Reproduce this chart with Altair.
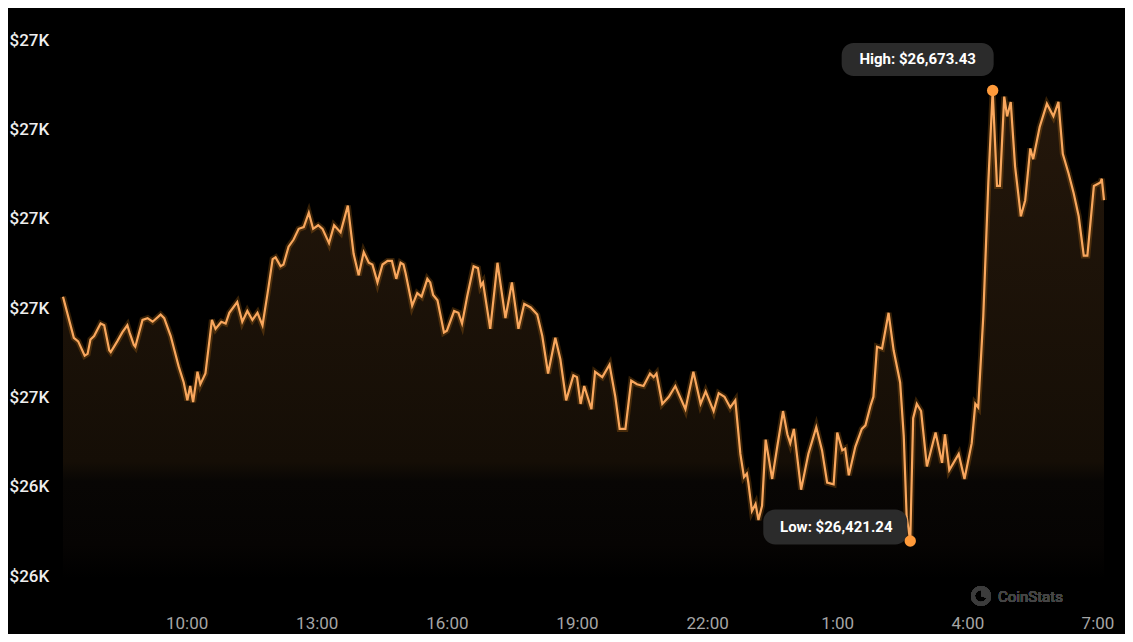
import altair as alt
import pandas as pd

# Times (HH:MM) starting on 2023-09-13, crossing midnight into 2023-09-14
hhmm = [
    "07:09", "07:24", "07:30", "07:39", "07:43", "07:47", "07:52", "08:01", "08:06", "08:13",
    "08:15", "08:24", "08:31", "08:38", "08:41", "08:47", "08:49", "08:59", "09:06", "09:13",
    "09:24", "09:29", "09:38", "09:49", "09:56", "10:01", "10:05", "10:09", "10:15", "10:19",
    "10:26", "10:35", "10:40", "10:48", "10:54", "10:59", "11:10", "11:17", "11:24", "11:31",
    "11:38", "11:45", "11:52", "11:59", "12:03", "12:10", "12:14", "12:21", "12:28", "12:35",
    "12:42", "12:49", "12:55", "13:02", "13:08", "13:17", "13:24", "13:33", "13:43", "13:51",
    "13:58", "14:05", "14:12", "14:17", "14:24", "14:31", "14:38", "14:44", "14:50", "14:56",
    "15:00", "15:03", "15:12", "15:19", "15:25", "15:33", "15:37", "15:41", "15:47", "15:56",
    "16:00", "16:10", "16:16", "16:21", "16:28", "16:37", "16:43", "16:47", "16:50", "17:00",
    "17:10", "17:21", "17:30", "17:39", "17:47", "17:56", "18:05", "18:12", "18:20", "18:30",
    "18:37", "18:45", "18:55", "19:00", "19:05", "19:10", "19:20", "19:25", "19:35", "19:45",
    "19:53", "19:59", "20:07", "20:15", "20:23", "20:32", "20:41", "20:46", "20:50", "20:58",
    "21:07", "21:16", "21:30", "21:41", "21:51", "21:58", "22:09", "22:16", "22:24", "22:32",
    "22:39", "22:46", "22:51", "22:55", "22:57", "23:02", "23:07", "23:11", "23:16", "23:21",
    "23:30", "23:37", "23:45", "23:51", "23:55", "00:00", "00:10", "00:20", "00:31", "00:39",
    "00:46", "00:55", "01:00", "01:07", "01:11", "01:16", "01:25", "01:34", "01:39", "01:46",
    "01:50", "01:55", "02:02", "02:11", "02:18", "02:27", "02:32", "02:36", "02:41", "02:45",
    "02:50", "02:56", "03:04", "03:16", "03:25", "03:29", "03:35", "03:48", "03:56", "04:06",
    "04:11", "04:15", "04:22", "04:29", "04:35", "04:41", "04:45", "04:51", "04:55", "05:00",
    "05:06", "05:14", "05:20", "05:27", "05:31", "05:40", "05:50", "05:59", "06:06", "06:12",
    "06:20", "06:27", "06:34", "06:41", "06:46", "06:55", "07:04", "07:06", "07:09",
]

prices = [
    26558, 26535, 26533, 26525, 26526, 26534, 26536, 26543, 26542, 26528,
    26527, 26533, 26538, 26542, 26538, 26531, 26530, 26545, 26546, 26544,
    26548, 26546, 26536, 26519, 26510, 26500, 26508, 26499, 26516, 26509,
    26515, 26545, 26540, 26544, 26543, 26549, 26555, 26544, 26550, 26545,
    26549, 26542, 26560, 26579, 26580, 26575, 26576, 26586, 26590, 26596,
    26597, 26605, 26596, 26598, 26596, 26588, 26598, 26594, 26609, 26582,
    26570, 26583, 26577, 26576, 26566, 26576, 26578, 26578, 26568, 26577,
    26576, 26571, 26553, 26560, 26558, 26568, 26566, 26559, 26556, 26538,
    26539, 26550, 26549, 26543, 26558, 26575, 26574, 26564, 26566, 26540,
    26577, 26546, 26566, 26540, 26554, 26552, 26548, 26536, 26515, 26535,
    26523, 26500, 26514, 26513, 26498, 26508, 26495, 26516, 26513, 26520,
    26502, 26484, 26484, 26511, 26509, 26508, 26515, 26513, 26515, 26498,
    26502, 26508, 26495, 26516, 26498, 26505, 26494, 26504, 26502, 26496,
    26500, 26470, 26457, 26459, 26454, 26438, 26442, 26433, 26441, 26478,
    26456, 26474, 26494, 26481, 26476, 26484, 26450, 26470, 26485, 26472,
    26454, 26453, 26482, 26472, 26473, 26458, 26474, 26484, 26486, 26497,
    26502, 26530, 26529, 26549, 26528, 26510, 26480, 26435, 26421.24, 26490,
    26498, 26494, 26463, 26482, 26465, 26481, 26461, 26470, 26456, 26476,
    26498, 26496, 26547, 26622, 26673.43, 26620, 26620, 26670, 26659, 26667,
    26631, 26603, 26612, 26641, 26635, 26653, 26666, 26659, 26667, 26638,
    26627, 26616, 26603, 26581, 26581, 26620, 26622, 26624, 26612,
]

y_ticks = [26400, 26450, 26500, 26550, 26600, 26650, 26700]
x_tick_days = [13, 13, 13, 13, 13, 14, 14, 14]
x_tick_hours = [10, 13, 16, 19, 22, 1, 4, 7]

# Build timestamps (day rolls over when clock wraps past midnight)
stamps = []
day = 13
prev = None
for t in hhmm:
    if prev is not None and t < prev:
        day += 1
    stamps.append(f"2023-09-{day:02d}T{t}:00")
    prev = t

df = pd.DataFrame({"t": stamps, "price": prices})
hi = df.loc[[df["price"].idxmax()]].copy()
lo = df.loc[[df["price"].idxmin()]].copy()
hi["label"] = hi["price"].map(lambda v: f"High: ${v:,.2f}")
lo["label"] = lo["price"].map(lambda v: f"Low: ${v:,.2f}")

tick_values = [alt.DateTime(year=2023, month=9, date=d, hours=h)
               for d, h in zip(x_tick_days, x_tick_hours)]

x_enc = alt.X(
    "t:T",
    scale=alt.Scale(nice=False),
    axis=alt.Axis(
        values=tick_values,
        labelExpr="timeFormat(datum.value, '%-H:%M')",
        domain=False, ticks=False, grid=False, title=None,
        labelColor="#a5a5a5", labelFontSize=17, labelFont="Roboto",
        labelPadding=44, labelBaseline="middle",
    ),
)
y_enc = alt.Y(
    "price:Q",
    scale=alt.Scale(domain=[26400, 26700], zero=False, nice=False),
    axis=alt.Axis(
        values=y_ticks,
        labelExpr="'$' + format(datum.value / 1000, '.0f') + 'K'",
        domain=False, ticks=False, grid=False, title=None,
        labelAlign="left", labelPadding=54, labelColor="#eeeeee",
        labelFontSize=17, labelFont="Roboto", labelFontWeight=500,
        labelBaseline="middle", labelOffset=-3,
    ),
)

base = alt.Chart(df).encode(x=x_enc, y=y_enc)

area = base.mark_area(
    color=alt.Gradient(
        gradient="linear",
        stops=[alt.GradientStop(color="#24170b", offset=0),
               alt.GradientStop(color="#150e06", offset=0.76),
               alt.GradientStop(color="#080604", offset=0.8),
               alt.GradientStop(color="#060403", offset=0.93),
               alt.GradientStop(color="#000000", offset=1)],
        x1=1, x2=1, y1=0, y2=1,
    )
).encode(y2=alt.datum(26400))
glow = base.mark_line(color="#f7931a", strokeWidth=6, opacity=0.22)
line = base.mark_line(color="#f9a75e", strokeWidth=2.2)

hi_base = alt.Chart(hi).encode(x="t:T", y="price:Q")
lo_base = alt.Chart(lo).encode(x="t:T", y="price:Q")

hi_box = hi_base.mark_rect(width=152, height=33, cornerRadius=12, color="#2b2b2b",
                           xOffset=-75, yOffset=-31)
hi_txt = hi_base.mark_text(dx=-75, dy=-31, color="#ffffff", fontSize=15,
                           fontWeight="bold", font="Roboto").encode(text="label:N")
lo_box = lo_base.mark_rect(width=144, height=35, cornerRadius=12, color="#2b2b2b",
                           xOffset=-75, yOffset=-14)
lo_txt = lo_base.mark_text(dx=-74, dy=-14, color="#ffffff", fontSize=15,
                           fontWeight="bold", font="Roboto").encode(text="label:N")
hi_dot = hi_base.mark_point(filled=True, size=130, color="#ff9a3a", opacity=1)
lo_dot = lo_base.mark_point(filled=True, size=130, color="#ff9a3a", opacity=1)

logo_ring = alt.Chart(df).mark_point(
    shape="circle", filled=False, size=260, strokeWidth=4, color="#3c3c3c", opacity=1
).encode(x=alt.value(918), y=alt.value(553))
logo_wedge = alt.Chart(df).mark_arc(
    radius=9, theta=0, theta2=1.9, color="#3c3c3c"
).encode(x=alt.value(918), y=alt.value(553))
wm = alt.Chart(df).mark_text(
    text="CoinStats", align="left", baseline="middle", color="#454545",
    fontSize=15, font="Roboto"
).encode(x=alt.value(935), y=alt.value(554))

chart = alt.layer(
    area, glow, line, logo_ring, logo_wedge, wm,
    hi_box, hi_txt, lo_box, lo_txt, hi_dot, lo_dot
).properties(
    width=1041, height=536,
    autosize=alt.AutoSizeParams(type="none"),
    padding={"left": 55, "top": 35, "right": 21, "bottom": 55},
    background="#000000",
).configure_view(stroke=None)

chart.save("out.html", embed_options={"renderer": "svg", "actions": False})
